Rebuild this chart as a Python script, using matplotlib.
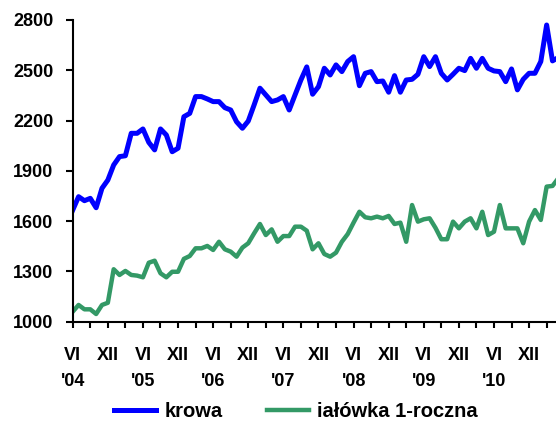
import matplotlib
matplotlib.use("Agg")
import matplotlib.pyplot as plt

# monthly prices, VI 2004 .. V 2011
krowa = [1666, 1746, 1722, 1736, 1680, 1796, 1845, 1935, 1985, 1990,
         2124, 2124, 2150, 2070, 2025, 2150, 2114, 2014, 2035, 2223,
         2243, 2343, 2343, 2329, 2313, 2313, 2277, 2263, 2193, 2154,
         2197, 2293, 2393, 2353, 2313, 2323, 2343, 2263, 2353, 2442,
         2520, 2357, 2402, 2512, 2472, 2532, 2492, 2552, 2581, 2408,
         2482, 2492, 2432, 2436, 2369, 2468, 2369, 2442, 2446, 2476,
         2581, 2522, 2581, 2482, 2442, 2476, 2512, 2498, 2571, 2512,
         2571, 2512, 2496, 2492, 2432, 2508, 2383, 2446, 2482, 2482,
         2552, 2770, 2556, 2576]
jalowka = [1060, 1100, 1074, 1074, 1046, 1100, 1113, 1313, 1279, 1303,
           1279, 1275, 1265, 1352, 1364, 1289, 1265, 1298, 1298, 1375,
           1392, 1438, 1438, 1452, 1428, 1477, 1432, 1418, 1388, 1442,
           1468, 1527, 1583, 1517, 1551, 1477, 1511, 1511, 1567, 1567,
           1543, 1432, 1468, 1404, 1388, 1412, 1477, 1523, 1591, 1656,
           1623, 1617, 1627, 1617, 1631, 1583, 1591, 1477, 1696, 1597,
           1611, 1617, 1560, 1492, 1492, 1597, 1557, 1597, 1617, 1557,
           1656, 1517, 1537, 1696, 1557, 1557, 1557, 1468, 1597, 1666,
           1607, 1806, 1810, 1856]
tick_labels = ["VI\n'04", "XII", "VI\n'05", "XII", "VI\n'06", "XII", "VI\n'07",
               "XII", "VI\n'08", "XII", "VI\n'09", "XII", "VI\n'10", "XII"]
y_ticks = [1000, 1300, 1600, 1900, 2200, 2500, 2800]

plt.rcParams['font.family'] = ['Liberation Sans', 'DejaVu Sans']
plt.rcParams['font.weight'] = 'bold'

fig = plt.figure(figsize=(5.56, 4.25), dpi=100)
ax = fig.add_axes([0.1308, 0.243, 1 - 0.1308, 0.71])

months = list(range(len(krowa)))
ax.plot(months, krowa, color='#0000FF', lw=3.6, label='krowa', solid_joinstyle='round')
ax.plot(months, jalowka, color='#339966', lw=3.2, label='iałówka 1-roczna', solid_joinstyle='round')

ax.set_xlim(0, 82.6)
ax.set_ylim(1000, 2800)
ax.set_yticks(y_ticks)
ax.set_yticklabels([str(v) for v in y_ticks], fontsize=13, fontweight='bold')

ax.set_xticks(range(0, 84, 3))
labels = []
for i in range(0, 84, 3):
    if i % 6 == 0 and i // 6 < len(tick_labels):
        labels.append(tick_labels[i // 6])
    else:
        labels.append('')
ax.set_xticklabels(labels, fontsize=13, fontweight='bold', linespacing=1.7)

for s in ['top', 'right']:
    ax.spines[s].set_visible(False)
for s in ['left', 'bottom']:
    ax.spines[s].set_linewidth(1.5)
ax.tick_params(axis='y', direction='out', length=5, width=1.5, pad=9)
ax.tick_params(axis='x', direction='out', length=4, width=1.5, pad=14)

fig.legend(loc='center', bbox_to_anchor=(0.532, 0.032), ncol=2, frameon=False,
           prop={'size': 14.5, 'weight': 'bold'}, handlelength=2.1, columnspacing=2.2,
           handletextpad=0.4)

fig.savefig('out.png', dpi=100)
